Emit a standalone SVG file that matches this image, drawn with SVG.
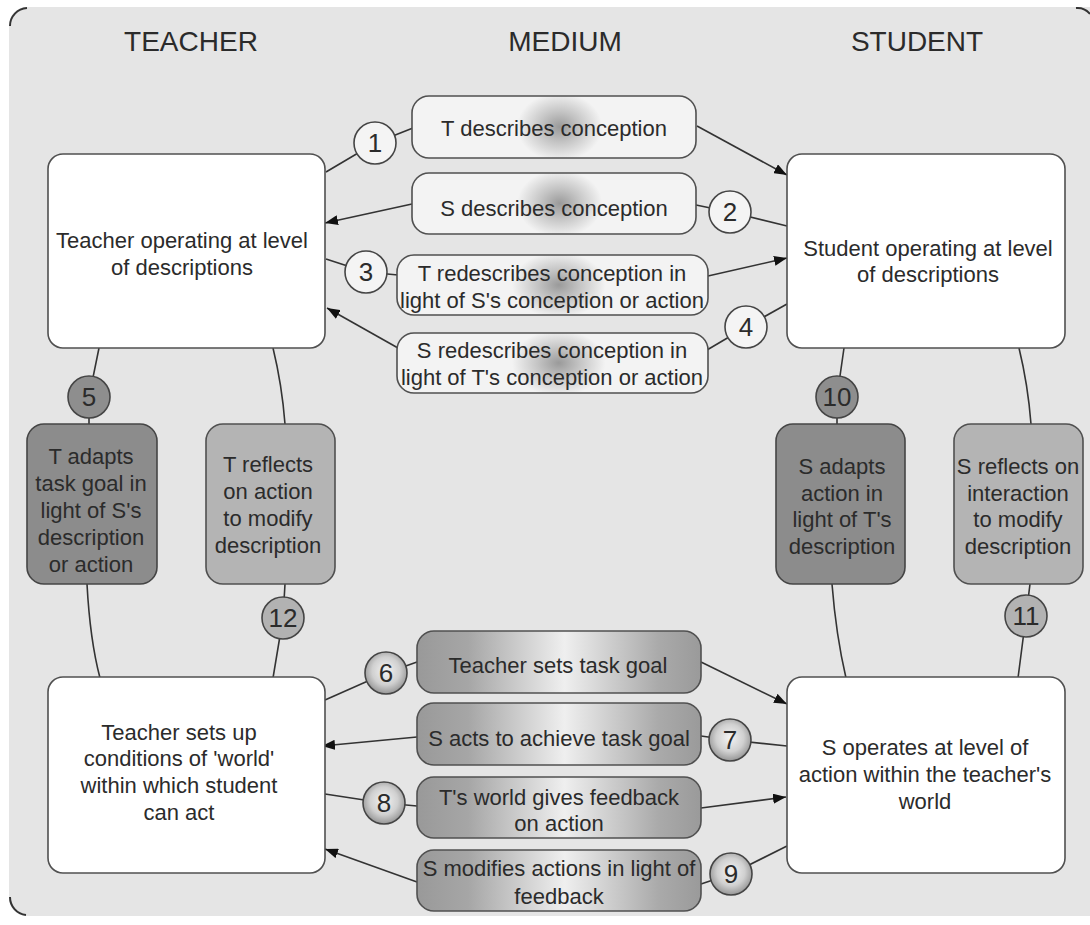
<svg xmlns="http://www.w3.org/2000/svg" width="1090" height="925" viewBox="0 0 1090 925">
<style>
text{font-family:"Liberation Sans",Arial,sans-serif;fill:#2b2b2b;text-anchor:middle}
.hdr{font-size:28px}
.t{font-size:22px}
.num{font-size:26px}
.main{fill:#ffffff;stroke:#505050;stroke-width:1.6}
.med1{fill:url(#blob);stroke:#505050;stroke-width:1.6}
.med2{fill:url(#shade);stroke:#505050;stroke-width:1.6}
.dark{fill:#8c8c8c;stroke:#454545;stroke-width:1.6}
.light{fill:#b4b4b4;stroke:#505050;stroke-width:1.6}
.c1{fill:#f4f4f4;stroke:#454545;stroke-width:1.6}
.c2{fill:url(#ball);stroke:#454545;stroke-width:1.6}
.cd{fill:#8e8e8e;stroke:#454545;stroke-width:1.6}
.cl{fill:#b2b2b2;stroke:#454545;stroke-width:1.6}
.ln{fill:none;stroke:#333;stroke-width:1.6}
.ar{fill:none;stroke:#333;stroke-width:1.6;marker-end:url(#ah)}
</style>
<defs>
<marker id="ah" markerUnits="userSpaceOnUse" markerWidth="14" markerHeight="10" refX="13" refY="5" orient="auto">
<path d="M0,0 L13,5 L0,10 z" fill="#111"/>
</marker>
<radialGradient id="blob" cx="0.5" cy="0.5" r="0.5" gradientTransform="translate(0.52 0.5) scale(0.3 1.1) translate(-0.5 -0.5)">
<stop offset="0" stop-color="#9a9a9a"/>
<stop offset="0.45" stop-color="#c4c4c4"/>
<stop offset="1" stop-color="#f3f3f3"/>
</radialGradient>
<linearGradient id="shade" x1="0" y1="0" x2="1" y2="0">
<stop offset="0" stop-color="#999999"/>
<stop offset="0.18" stop-color="#a6a6a6"/>
<stop offset="0.52" stop-color="#efefef"/>
<stop offset="0.85" stop-color="#aaaaaa"/>
<stop offset="1" stop-color="#9a9a9a"/>
</linearGradient>
<radialGradient id="ball" cx="0.5" cy="0.45" r="0.55">
<stop offset="0" stop-color="#f4f4f4"/>
<stop offset="0.6" stop-color="#d0d0d0"/>
<stop offset="1" stop-color="#959595"/>
</radialGradient>
</defs>

<rect x="0" y="0" width="1090" height="925" fill="#ffffff"/>
<rect x="9" y="7" width="1100" height="909" rx="18" fill="#e5e5e5"/>
<path d="M10,26 A18,18 0 0 1 27,8" fill="none" stroke="#333" stroke-width="2"/>
<path d="M10,897 A18,18 0 0 0 26,915" fill="none" stroke="#333" stroke-width="2"/>
<path d="M1076,8 A16,16 0 0 1 1090,14" fill="none" stroke="#333" stroke-width="2"/>

<g id="headers">
<text class="hdr" x="191" y="51">TEACHER</text>
<text class="hdr" x="565" y="51">MEDIUM</text>
<text class="hdr" x="917" y="51">STUDENT</text>
</g>

<g id="connectors">
<line class="ln" x1="326" y1="172" x2="375" y2="143"/>
<line class="ln" x1="375" y1="143" x2="413" y2="128"/>
<line class="ar" x1="697" y1="126" x2="787" y2="175"/>
<line class="ar" x1="412" y1="204" x2="325" y2="223"/>
<line class="ln" x1="696" y1="205" x2="730" y2="212"/>
<line class="ln" x1="730" y1="212" x2="787" y2="226"/>
<line class="ln" x1="326" y1="259" x2="366" y2="272"/>
<line class="ln" x1="366" y1="272" x2="398" y2="275"/>
<line class="ar" x1="708" y1="276" x2="787" y2="258"/>
<line class="ln" x1="787" y1="304" x2="746" y2="327"/>
<line class="ln" x1="746" y1="327" x2="707" y2="350"/>
<line class="ar" x1="398" y1="348" x2="327" y2="308"/>

<line class="ln" x1="325" y1="700" x2="386" y2="673"/>
<line class="ln" x1="386" y1="673" x2="417" y2="662"/>
<line class="ar" x1="701" y1="662" x2="787" y2="704"/>
<line class="ar" x1="417" y1="737" x2="322" y2="746"/>
<line class="ln" x1="701" y1="736" x2="730" y2="740"/>
<line class="ln" x1="730" y1="740" x2="787" y2="746"/>
<line class="ln" x1="325" y1="794" x2="384" y2="803"/>
<line class="ln" x1="384" y1="803" x2="417" y2="806"/>
<line class="ar" x1="701" y1="808" x2="786" y2="797"/>
<line class="ln" x1="787" y1="846" x2="731" y2="874"/>
<line class="ln" x1="731" y1="874" x2="701" y2="884"/>
<line class="ar" x1="417" y1="882" x2="325" y2="849"/>

<path class="ln" d="M99,348 L89,397 L89,424"/>
<path class="ln" d="M87,584 Q90,640 100,678"/>
<path class="ln" d="M273,348 Q282,385 285,424"/>
<path class="ln" d="M285,584 L283,618 L273,678"/>
<path class="ln" d="M844,348 L837,397 L837,424"/>
<path class="ln" d="M832,584 Q836,635 846,678"/>
<path class="ln" d="M1019,348 Q1028,385 1031,424"/>
<path class="ln" d="M1030,584 L1026,616 L1018,678"/>
</g>

<g id="teacher-desc">
<rect class="main" x="48" y="154" width="277" height="194" rx="15"/>
<text class="t" x="182" y="248">Teacher operating at level</text>
<text class="t" x="182" y="275">of descriptions</text>
</g>
<g id="student-desc">
<rect class="main" x="787" y="154" width="278" height="194" rx="15"/>
<text class="t" x="928" y="256">Student operating at level</text>
<text class="t" x="928" y="282">of descriptions</text>
</g>
<g id="teacher-world">
<rect class="main" x="48" y="677" width="277" height="196" rx="15"/>
<text class="t" x="179" y="740">Teacher sets up</text>
<text class="t" x="179" y="766">conditions of 'world'</text>
<text class="t" x="179" y="793">within which student</text>
<text class="t" x="179" y="820">can act</text>
</g>
<g id="student-world">
<rect class="main" x="787" y="677" width="278" height="196" rx="15"/>
<text class="t" x="925" y="755">S operates at level of</text>
<text class="t" x="925" y="782">action within the teacher's</text>
<text class="t" x="925" y="809">world</text>
</g>

<g id="m1">
<rect class="med1" x="412" y="96" width="284" height="62" rx="17"/>
<text class="t" x="554" y="136">T describes conception</text>
</g>
<g id="m2">
<rect class="med1" x="412" y="173" width="284" height="61" rx="17"/>
<text class="t" x="554" y="216">S describes conception</text>
</g>
<g id="m3">
<rect class="med1" x="397" y="255" width="311" height="60" rx="17"/>
<text class="t" x="552" y="281">T redescribes conception in</text>
<text class="t" x="552" y="308">light of S's conception or action</text>
</g>
<g id="m4">
<rect class="med1" x="397" y="333" width="311" height="60" rx="17"/>
<text class="t" x="552" y="358">S redescribes conception in</text>
<text class="t" x="552" y="385">light of T's conception or action</text>
</g>

<g id="m6">
<rect class="med2" x="417" y="631" width="284" height="62" rx="17"/>
<text class="t" x="558" y="673">Teacher sets task goal</text>
</g>
<g id="m7">
<rect class="med2" x="417" y="703" width="284" height="62" rx="17"/>
<text class="t" x="559" y="746">S acts to achieve task goal</text>
</g>
<g id="m8">
<rect class="med2" x="417" y="777" width="284" height="61" rx="17"/>
<text class="t" x="559" y="805">T's world gives feedback</text>
<text class="t" x="559" y="831">on action</text>
</g>
<g id="m9">
<rect class="med2" x="417" y="850" width="284" height="61" rx="17"/>
<text class="t" x="559" y="876">S modifies actions in light of</text>
<text class="t" x="559" y="904">feedback</text>
</g>

<g id="s5">
<rect class="dark" x="27" y="424" width="130" height="160" rx="17"/>
<text class="t" x="91" y="464">T adapts</text>
<text class="t" x="91" y="491">task goal in</text>
<text class="t" x="91" y="518">light of S's</text>
<text class="t" x="91" y="545">description</text>
<text class="t" x="91" y="572">or action</text>
</g>
<g id="s12">
<rect class="light" x="206" y="424" width="129" height="160" rx="17"/>
<text class="t" x="268" y="472">T reflects</text>
<text class="t" x="268" y="499">on action</text>
<text class="t" x="268" y="526">to modify</text>
<text class="t" x="268" y="553">description</text>
</g>
<g id="s10">
<rect class="dark" x="776" y="424" width="129" height="160" rx="17"/>
<text class="t" x="842" y="474">S adapts</text>
<text class="t" x="842" y="501">action in</text>
<text class="t" x="842" y="527">light of T's</text>
<text class="t" x="842" y="554">description</text>
</g>
<g id="s11">
<rect class="light" x="954" y="424" width="129" height="160" rx="17"/>
<text class="t" x="1018" y="474">S reflects on</text>
<text class="t" x="1018" y="501">interaction</text>
<text class="t" x="1018" y="527">to modify</text>
<text class="t" x="1018" y="554">description</text>
</g>

<g id="n1"><circle class="c1" cx="375" cy="143" r="21"/><text class="num" x="375" y="152">1</text></g>
<g id="n2"><circle class="c1" cx="730" cy="212" r="21"/><text class="num" x="730" y="221">2</text></g>
<g id="n3"><circle class="c1" cx="366" cy="272" r="21"/><text class="num" x="366" y="281">3</text></g>
<g id="n4"><circle class="c1" cx="746" cy="327" r="21"/><text class="num" x="746" y="336">4</text></g>
<g id="n5"><circle class="cd" cx="89" cy="397" r="21"/><text class="num" x="89" y="406">5</text></g>
<g id="n10"><circle class="cd" cx="837" cy="397" r="21"/><text class="num" x="837" y="406">10</text></g>
<g id="n12"><circle class="cl" cx="283" cy="618" r="21"/><text class="num" x="283" y="627">12</text></g>
<g id="n11"><circle class="cl" cx="1026" cy="616" r="21"/><text class="num" x="1026" y="625">11</text></g>
<g id="n6"><circle class="c2" cx="386" cy="673" r="21"/><text class="num" x="386" y="682">6</text></g>
<g id="n7"><circle class="c2" cx="730" cy="740" r="21"/><text class="num" x="730" y="749">7</text></g>
<g id="n8"><circle class="c2" cx="384" cy="803" r="21"/><text class="num" x="384" y="812">8</text></g>
<g id="n9"><circle class="c2" cx="731" cy="874" r="21"/><text class="num" x="731" y="883">9</text></g>
</svg>
